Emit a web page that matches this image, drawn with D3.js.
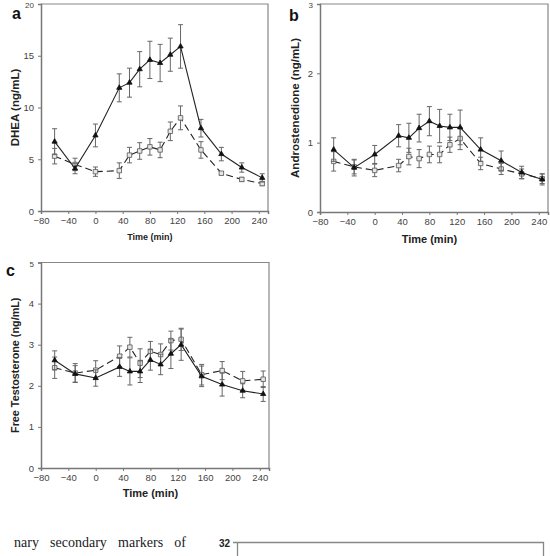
<!DOCTYPE html>
<html><head><meta charset="utf-8">
<script src="https://cdn.jsdelivr.net/npm/d3@7"></script>
<style>
html,body{margin:0;padding:0;background:#fff;}
svg{display:block;}
</style></head>
<body>
<script>
// ---- data ----
const times = [-60, -30, 0, 35, 50, 65, 80, 95, 110, 125, 155, 185, 215, 245];
const xTicks = [-80, -40, 0, 40, 80, 120, 160, 200, 240];

const dheaSolid     = [6.7, 4.1, 7.3, 11.9, 12.4, 13.7, 14.6, 14.3, 15.1, 15.9, 8.0, 5.5, 4.2, 3.2];
const dheaSolidErr  = [1.25, 0.5, 1.1, 1.35, 1.4, 1.7, 1.8, 1.8, 1.6, 2.1, 0.85, 0.65, 0.45, 0.4];
const dheaDashed    = [5.3, 4.5, 3.8, 3.9, 5.4, 5.8, 6.2, 5.9, 7.7, 9.0, 5.9, 3.65, 3.05, 2.65];
const dheaDashedErr = [0.75, 0.6, 0.45, 0.75, 0.75, 0.8, 0.8, 0.75, 0.9, 1.15, 0.8, 0.15, 0.2, 0.2];
const dheaYTicks = [0, 5, 10, 15, 20];

const androSolid     = [0.90, 0.64, 0.83, 1.10, 1.07, 1.21, 1.31, 1.24, 1.22, 1.22, 0.90, 0.74, 0.57, 0.47];
const androSolidErr  = [0.17, 0.12, 0.13, 0.16, 0.21, 0.20, 0.21, 0.24, 0.19, 0.25, 0.17, 0.14, 0.09, 0.08];
const androDashed    = [0.73, 0.65, 0.60, 0.67, 0.80, 0.77, 0.83, 0.83, 0.97, 1.06, 0.70, 0.62, 0.55, 0.48];
const androDashedErr = [0.14, 0.10, 0.09, 0.09, 0.12, 0.13, 0.12, 0.12, 0.11, 0.16, 0.09, 0.08, 0.07, 0.07];
const androYTicks = [0, 1, 2, 3];

const testoSolid     = [2.62, 2.29, 2.19, 2.46, 2.35, 2.35, 2.63, 2.52, 2.78, 3.00, 2.23, 2.03, 1.88, 1.80];
const testoSolidErr  = [0.23, 0.20, 0.20, 0.23, 0.33, 0.27, 0.25, 0.25, 0.36, 0.38, 0.25, 0.28, 0.17, 0.18];
const testoDashed    = [2.44, 2.31, 2.38, 2.72, 2.94, 2.55, 2.84, 2.76, 3.10, 3.13, 2.27, 2.37, 2.12, 2.16];
const testoDashedErr = [0.26, 0.23, 0.23, 0.25, 0.24, 0.35, 0.24, 0.26, 0.23, 0.27, 0.25, 0.22, 0.23, 0.20];
const testoYTicks = [0, 1, 2, 3, 4, 5];

// ---- layout ----
const W = 550, H = 556;
const svg = d3.select("body").append("svg").attr("width", W).attr("height", H);
const FONT = "Liberation Sans, Arial, sans-serif";

const panels = [
  {letter: "a", ylab: "DHEA (ng/mL)", yTicks: dheaYTicks, ymax: 20,
   solid: dheaSolid, solidErr: dheaSolidErr, dashed: dheaDashed, dashedErr: dheaDashedErr,
   box: {l: 41, r: 268, t: 4, b: 211}, letterPos: [12, 19], ylabX: 15, ylabSize: 11.5,
   xlabY: 240, xlabSize: 9, tickSize: 9.5},
  {letter: "b", ylab: "Androstenedione (ng/mL)", yTicks: androYTicks, ymax: 3,
   solid: androSolid, solidErr: androSolidErr, dashed: androDashed, dashedErr: androDashedErr,
   box: {l: 320, r: 548, t: 4, b: 212}, letterPos: [289, 21], ylabX: 295, ylabSize: 11.5,
   xlabY: 243, xlabSize: 11, tickSize: 9.5},
  {letter: "c", ylab: "Free Testosterone (ng/mL)", yTicks: testoYTicks, ymax: 5,
   solid: testoSolid, solidErr: testoSolidErr, dashed: testoDashed, dashedErr: testoDashedErr,
   box: {l: 41, r: 269, t: 262.5, b: 468}, letterPos: [6, 276], ylabX: 15, ylabSize: 10.8,
   xlabY: 497, xlabSize: 11, tickSize: 9.5}
];

panels.forEach(p => {
  const bx = p.box;
  const x = d3.scaleLinear().domain([-80, 253.5]).range([bx.l, bx.r]);
  const y = d3.scaleLinear().domain([0, p.ymax]).range([bx.b, bx.t]);
  const g = svg.append("g");

  // frame top/right
  g.append("path")
    .attr("d", `M${bx.l},${bx.t}H${bx.r}V${bx.b}`)
    .attr("fill", "none").attr("stroke", "#888").attr("stroke-width", 1.2);

  const yAxis = g.append("g").attr("transform", `translate(${bx.l},0)`)
    .call(d3.axisLeft(y).tickValues(p.yTicks).tickSize(3).tickPadding(4).tickFormat(d3.format("d")));
  const xAxis = g.append("g").attr("transform", `translate(0,${bx.b})`)
    .call(d3.axisBottom(x).tickValues(xTicks).tickSize(3).tickPadding(3).tickFormat(d3.format("d")));
  [yAxis, xAxis].forEach(ax => {
    ax.select(".domain").attr("stroke", "#777").attr("stroke-width", 1.5);
    ax.selectAll(".tick line").attr("stroke", "#777");
    ax.selectAll(".tick text").attr("fill", "#444").style("font-family", FONT).style("font-size", p.tickSize + "px");
  });
  // top tick label is smaller in the reference and sits slightly lower
  yAxis.selectAll(".tick").filter(d => d === p.ymax).select("text")
    .style("font-size", "8px").attr("dy", null).attr("y", 3.5);

  // labels
  g.append("text").attr("x", p.letterPos[0]).attr("y", p.letterPos[1]).text(p.letter)
    .style("font-family", FONT).style("font-weight", "bold").style("font-size", "16px").attr("fill", "#111");
  g.append("text")
    .attr("transform", `translate(${p.ylabX},${(bx.t + bx.b) / 2}) rotate(-90)`)
    .attr("text-anchor", "middle").attr("dy", "0.35em").text(p.ylab)
    .style("font-family", FONT).style("font-weight", "bold").style("font-size", p.ylabSize + "px").attr("fill", "#222");
  g.append("text").attr("x", (x(-80) + x(240)) / 2).attr("y", p.xlabY).attr("text-anchor", "middle")
    .text("Time (min)")
    .style("font-family", FONT).style("font-weight", "bold").style("font-size", p.xlabSize + "px").attr("fill", "#222");

  const series = [
    {vals: p.dashed, errs: p.dashedErr, dash: "7,4", sym: d3.symbolSquare, size: 20, fill: "#e6e6e6", stroke: "#555"},
    {vals: p.solid, errs: p.solidErr, dash: null, sym: d3.symbolTriangle, size: 12, fill: "#111", stroke: "#111"}
  ];
  series.forEach(s => {
    const data = times.map((t, i) => ({t, v: s.vals[i], e: s.errs[i]}));
    // error bars
    const eb = g.append("g").attr("stroke", "#666").attr("stroke-width", 1).attr("fill", "none");
    data.forEach(d => {
      const cx = x(d.t), y1 = y(d.v + d.e), y2 = y(d.v - d.e);
      eb.append("path").attr("d", `M${cx},${y1}V${y2}M${cx - 2.5},${y1}H${cx + 2.5}M${cx - 2.5},${y2}H${cx + 2.5}`);
    });
    g.append("path").datum(data)
      .attr("d", d3.line().x(d => x(d.t)).y(d => y(d.v)))
      .attr("fill", "none").attr("stroke", "#222").attr("stroke-width", 1.1)
      .attr("stroke-dasharray", s.dash);
    g.selectAll(null).data(data).enter().append("path")
      .attr("transform", d => `translate(${x(d.t)},${y(d.v)})`)
      .attr("d", d3.symbol().type(s.sym).size(s.size))
      .attr("fill", s.fill).attr("stroke", s.stroke).attr("stroke-width", 0.8);
  });
});

// ---- fragment of page below the figure ----
const para = svg.append("text").attr("x", 14).attr("y", 546.5)
  .text("nary secondary markers of")
  .style("font-family", "Liberation Serif, Times New Roman, serif").style("font-size", "14px").attr("fill", "#222");
// justify by widening the word gaps only
const natural = para.node().getComputedTextLength();
const target = 172;
para.style("word-spacing", Math.max(0, (target - natural) / 3) + "px");

svg.append("text").attr("x", 230).attr("y", 546.5).attr("text-anchor", "end").text("32")
  .style("font-family", FONT).style("font-weight", "bold").style("font-size", "10px").attr("fill", "#222");
svg.append("path").attr("d", "M233,542.5H237.5V556M237.5,542.5H543.5V556")
  .attr("fill", "none").attr("stroke", "#888").attr("stroke-width", 1.3);
</script>
</body></html>
